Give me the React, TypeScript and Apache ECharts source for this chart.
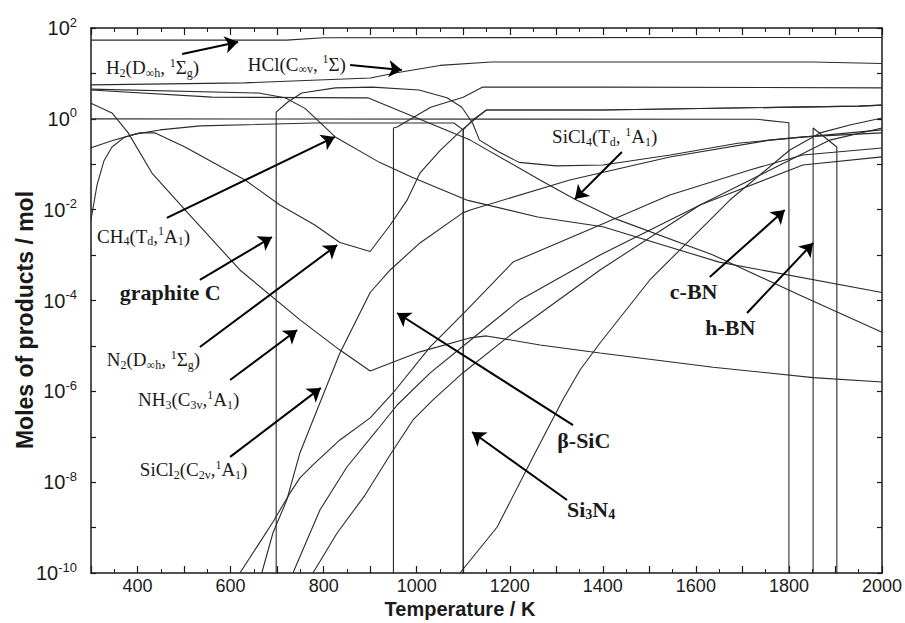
import React, { useEffect, useRef } from "react";
import * as echarts from "echarts";

// ---------- data (temperature in K, moles) ----------
const GONE = 1e-12; // below the axis floor: the phase is absent

const H2 = [[300, 54], [720, 54], [800, 61], [2000, 62]];
const HCL = [[300, 5.6], [630, 6.2], [900, 7.9], [960, 10.5], [1050, 15], [1160, 17.8], [1850, 17.8], [2000, 16.5]];
const CH4 = [[300, 4.5], [660, 3.7], [717, 2.9], [760, 1.7], [825, 0.4], [920, 0.11], [990, 0.052], [1110, 0.016], [1260, 0.0069], [1400, 0.0042], [1650, 7e-4], [2000, 1.5e-4]];
const SICL4 = [[300, 4.3], [560, 3.0], [895, 2.9], [986, 1.2], [1115, 0.34], [1265, 0.045], [1340, 0.017], [1422, 0.0066], [1637, 1.0e-3], [1824, 1.3e-4], [2000, 2.0e-5]];
const NH3 = [[300, 2.2], [345, 1.35], [380, 0.49], [431, 0.064], [506, 8.9e-3], [620, 4.7e-4], [750, 3.7e-5], [835, 8.1e-6], [900, 2.8e-6], [1007, 7.4e-6], [1114, 1.5e-5], [1150, 1.66e-5], [1265, 1.05e-5], [1394, 7e-6], [1637, 3.4e-6], [1852, 2e-6], [2000, 1.6e-6]];
const N2 = [[300, 0.006], [313, 0.035], [328, 0.12], [345, 0.24], [373, 0.4], [405, 0.49], [438, 0.49], [502, 0.24], [631, 0.045], [706, 0.0127], [781, 0.0046], [835, 0.0019], [900, 0.0012], [943, 0.0046], [979, 0.016], [1007, 0.064], [1050, 0.2], [1097, 0.57], [1150, 1.57], [1400, 1.57], [1950, 1.9], [2000, 2.0]];
const PHASE_A = [[300, 0.23], [345, 0.33], [395, 0.46], [448, 0.57], [535, 0.7], [780, 0.81], [1080, 0.81], [1100, 0.57], [1100, GONE]];
const GRAPHITE = [[698, GONE], [698, 1.4], [723, 2.35], [753, 3.7], [825, 4.8], [905, 5.0], [1005, 4.3], [1065, 2.9], [1097, 1.8], [1120, 0.81], [1135, 0.34], [1175, 0.19], [1220, 0.11], [1300, 0.092], [1400, 0.096], [1545, 0.16], [1690, 0.29], [1830, 0.4], [2000, 0.49]];
const BETA_SIC = [[950, GONE], [950, 0.63], [958, 0.66], [1030, 1.8], [1100, 3.0], [1142, 5.0], [1400, 5.0], [2000, 4.8]];
const SI3N4 = [[1100, GONE], [1100, 0.57], [1120, 0.94], [1150, 1.57], [1400, 1.57], [1950, 1.9], [2000, 2.0]];
const C_BN = [[300, 1.0], [1730, 0.98], [1800, 0.82], [1800, GONE]];
const H_BN = [[1852, GONE], [1852, 0.63], [1903, 0.24], [1903, GONE]];
const SICL2 = [[667, 1e-10], [691, 7.6e-10], [721, 4.1e-9], [749, 4.4e-8], [777, 2.3e-7], [835, 7.0e-6], [900, 1.5e-4], [943, 4.7e-4], [1007, 1.85e-3], [1099, 8.5e-3], [1115, 9.8e-3], [1329, 0.045], [1544, 0.145], [1759, 0.34], [2000, 0.57]];
const GAS_B1 = [[620, 1e-10], [659, 4.1e-10], [691, 1.33e-9], [728, 5.8e-9], [749, 1.24e-8], [777, 2.4e-8], [835, 8.5e-8], [900, 2.6e-7], [949, 9.2e-7], [1029, 9.5e-6], [1108, 6.2e-5], [1207, 7.0e-4], [1394, 4.6e-3], [1544, 0.021], [1716, 0.075], [1830, 0.16], [2000, 0.228]];
const GAS_B3 = [[734, 1e-10], [792, 2.44e-9], [850, 2.16e-8], [915, 1.41e-7], [958, 5.0e-7], [1029, 2.54e-6], [1108, 1.16e-5], [1222, 1.03e-4], [1394, 1.0e-3], [1609, 0.0127], [1830, 0.096], [2000, 0.145]];
const GAS_B4 = [[777, 1e-10], [829, 7.6e-10], [889, 5.2e-9], [943, 4.0e-8], [992, 2.34e-7], [1035, 6.5e-7], [1099, 2.54e-6], [1207, 1.93e-5], [1394, 4.7e-4], [1609, 0.0127], [1781, 0.096], [1888, 0.34], [2000, 0.63]];
const GAS_B5 = [[1093, 1e-10], [1173, 1.03e-9], [1250, 3.6e-8], [1314, 6.5e-7], [1351, 2.95e-6], [1394, 1.16e-5], [1501, 2.83e-4], [1673, 0.0163], [1802, 0.206], [1867, 0.49], [1931, 0.73], [2000, 1.04]];

const SERIES = [
  { name: "H2", data: H2 },
  { name: "HCl", data: HCL },
  { name: "CH4", data: CH4 },
  { name: "SiCl4", data: SICL4 },
  { name: "NH3", data: NH3 },
  { name: "N2", data: N2 },
  { name: "phase A", data: PHASE_A },
  { name: "graphite C", data: GRAPHITE },
  { name: "beta-SiC", data: BETA_SIC },
  { name: "Si3N4", data: SI3N4 },
  { name: "c-BN", data: C_BN },
  { name: "h-BN", data: H_BN },
  { name: "SiCl2", data: SICL2 },
  { name: "gas B1", data: GAS_B1 },
  { name: "gas B3", data: GAS_B3 },
  { name: "gas B4", data: GAS_B4 },
  { name: "gas B5", data: GAS_B5 },
];

// annotation labels: anchor (left-middle) in data coordinates
const LABELS = [
  { text: "H{sub|2}(D{sub|∞h}, {sup|1}Σ{sub|g})", t: 332, v: 13.2, bold: false },
  { text: "HCl(C{sub|∞v}, {sup|1}Σ)", t: 637, v: 16.1, bold: false },
  { text: "SiCl{sub|4}(T{sub|d}, {sup|1}A{sub|1})", t: 1291, v: 0.4, bold: false },
  { text: "CH{sub|4}(T{sub|d},{sup|1}A{sub|1})", t: 313, v: 2.6e-3, bold: false },
  { text: "graphite C", t: 362, v: 1.47e-4, bold: true },
  { text: "N{sub|2}(D{sub|∞h}, {sup|1}Σ{sub|g})", t: 334, v: 4.9e-6, bold: false },
  { text: "NH{sub|3}(C{sub|3v},{sup|1}A{sub|1})", t: 401, v: 6.5e-7, bold: false },
  { text: "SiCl{sub|2}(C{sub|2v},{sup|1}A{sub|1})", t: 405, v: 1.86e-8, bold: false },
  { text: "β-SiC", t: 1302, v: 8.1e-8, bold: true },
  { text: "Si{sub|3}N{sub|4}", t: 1323, v: 2.44e-9, bold: true },
  { text: "c-BN", t: 1544, v: 1.54e-4, bold: true },
  { text: "h-BN", t: 1620, v: 2.6e-5, bold: true },
];

// arrows: [fromT, fromV, toT, toV]
const ARROWS = [
  [496, 26.8, 616, 49.2],
  [857, 15.3, 968, 11.9],
  [1441, 0.186, 1340, 0.0172],
  [463, 6.6e-3, 824, 0.4],
  [534, 2.83e-4, 689, 2.5e-3],
  [534, 9.5e-6, 829, 1.67e-3],
  [599, 1.78e-6, 743, 2.24e-5],
  [599, 3.6e-8, 794, 1.19e-6],
  [1336, 1.8e-7, 958, 5.3e-5],
  [1323, 4.06e-9, 1119, 1.27e-7],
  [1630, 3.3e-4, 1791, 9.8e-3],
  [1710, 5.3e-5, 1852, 1.85e-3],
];

const X_TITLE = "Temperature / K";
const Y_TITLE = "Moles of products / mol";

const SERIF = '"Liberation Serif", "Times New Roman", serif';
const SANS = '"Liberation Sans", Arial, sans-serif';
const INK = "#1a1a1a";
const CURVE = "#2b2b2b";

export default function App() {
  const ref = useRef<HTMLDivElement>(null);

  useEffect(() => {
    const chart = echarts.init(ref.current!, null, { renderer: "svg" });

    const frameLine = { show: true, onZero: false, lineStyle: { color: INK, width: 1.5 } };

    const xBase = {
      type: "value",
      min: 300,
      max: 2000,
      interval: 100,
      axisLine: frameLine,
      axisTick: { show: true, inside: true, length: 7, lineStyle: { color: INK, width: 1.2 } },
      minorTick: { show: true, splitNumber: 2, length: 4, lineStyle: { color: INK, width: 1 } },
      splitLine: { show: false },
      minorSplitLine: { show: false },
    };
    const yBase = {
      type: "log",
      logBase: 10,
      min: 1e-10,
      max: 100,
      interval: 1,
      axisLine: frameLine,
      axisTick: { show: true, inside: true, length: 5, lineStyle: { color: INK, width: 1.2 } },
      splitLine: { show: false },
    };

    const series: any[] = SERIES.map((s) => ({
      name: s.name,
      type: "line",
      data: s.data,
      symbol: "none",
      showSymbol: false,
      clip: true,
      silent: true,
      lineStyle: { color: CURVE, width: 1.1 },
    }));
    series[0].markLine = {
      silent: true,
      symbol: ["none", "arrow"],
      symbolSize: 13,
      label: { show: false },
      lineStyle: { color: "#000", width: 2, type: "solid" },
      itemStyle: { color: "#000" },
      data: ARROWS.map((a) => [{ coord: [a[0], a[1]] }, { coord: [a[2], a[3]] }]),
    };

    chart.setOption({
      animation: false,
      backgroundColor: "#fff",
      grid: { left: 91, right: 23, top: 28, bottom: 50, containLabel: false },
      xAxis: [
        {
          ...xBase,
          position: "bottom",
          axisLabel: {
            formatter: (v: number) => (v % 200 === 0 ? String(v) : ""),
            fontSize: 18,
            fontFamily: SANS,
            color: INK,
            margin: 4,
          },
        },
        { ...xBase, position: "top", axisLabel: { show: false } },
      ],
      yAxis: [
        {
          ...yBase,
          position: "left",
          axisLabel: {
            formatter: (v: number) => {
              const e = Math.round(Math.log10(v));
              return e % 2 === 0 ? `10{sup|${e}}` : "";
            },
            fontSize: 20,
            fontFamily: SANS,
            color: INK,
            margin: 14,
            rich: { sup: { fontSize: 13, fontFamily: SANS, color: INK, padding: [0, 0, 12, 0] } },
          },
        },
        { ...yBase, position: "right", axisLabel: { show: false } },
      ],
      series,
    });

    const graphics: any[] = LABELS.map((l) => {
      const p = chart.convertToPixel({ seriesIndex: 0 }, [l.t, l.v]) as number[];
      const size = l.bold ? 22 : 19;
      const subSize = l.bold ? 14 : 12;
      const weight = l.bold ? "bold" : "normal";
      return {
        type: "text",
        x: p[0],
        y: p[1],
        silent: true,
        z: 10,
        style: {
          text: l.text,
          fontSize: size,
          fontFamily: SERIF,
          fontWeight: weight,
          fill: INK,
          lineHeight: size + 9,
          align: "left",
          verticalAlign: "middle",
          rich: {
            sub: { fontSize: subSize, fontFamily: SERIF, fontWeight: weight, fill: INK, padding: [10, 0, 0, 0] },
            sup: { fontSize: subSize, fontFamily: SERIF, fontWeight: weight, fill: INK, padding: [0, 0, 10, 0] },
          },
        },
      };
    });
    graphics.push({
      type: "text",
      x: 460,
      y: 609,
      silent: true,
      style: { text: X_TITLE, fontSize: 20, fontWeight: "bold", fontFamily: SANS, fill: INK, align: "center", verticalAlign: "middle" },
    });
    graphics.push({
      type: "text",
      x: 25,
      y: 320,
      rotation: Math.PI / 2,
      silent: true,
      style: { text: Y_TITLE, fontSize: 23, fontWeight: "bold", fontFamily: SANS, fill: INK, align: "center", verticalAlign: "middle" },
    });
    chart.setOption({ graphic: graphics });

    return () => chart.dispose();
  }, []);

  return <div ref={ref} style={{ position: "fixed", left: 0, top: 0, width: 905, height: 623, background: "#fff" }} />;
}
